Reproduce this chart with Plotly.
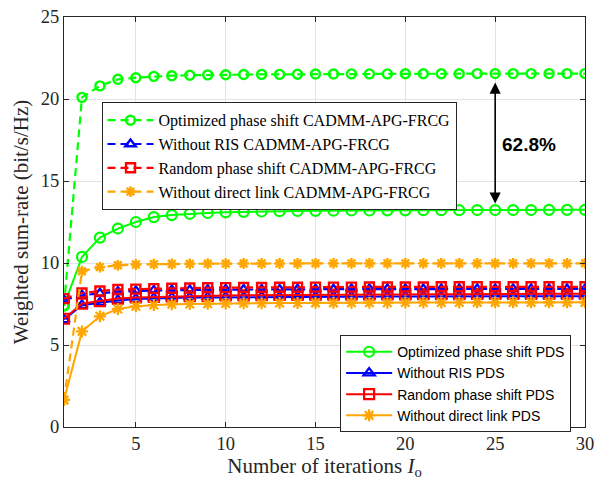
import plotly.graph_objects as go

iters = list(range(1, 31))

# CADMM-APG-FRCG (dashed curves)
opt_cadmm = [7.4, 20.1, 20.8, 21.2, 21.3, 21.38, 21.42, 21.45, 21.47, 21.48,
             21.49, 21.5, 21.5, 21.51, 21.52, 21.52, 21.53, 21.53, 21.53, 21.54,
             21.54, 21.54, 21.54, 21.55, 21.55, 21.55, 21.55, 21.55, 21.55, 21.55]
noris_cadmm = [7.75, 8.03, 8.15, 8.25, 8.3, 8.33, 8.35, 8.36, 8.37, 8.38,
               8.38, 8.39, 8.39, 8.4, 8.4, 8.4, 8.41, 8.41, 8.41, 8.41,
               8.42, 8.42, 8.42, 8.42, 8.42, 8.42, 8.42, 8.42, 8.42, 8.42]
rand_cadmm = [7.83, 8.17, 8.29, 8.38, 8.41, 8.44, 8.46, 8.48, 8.49, 8.5,
              8.51, 8.51, 8.52, 8.52, 8.53, 8.53, 8.53, 8.54, 8.54, 8.54,
              8.54, 8.55, 8.55, 8.55, 8.55, 8.55, 8.55, 8.55, 8.55, 8.55]
nodl_cadmm = [1.65, 9.5, 9.75, 9.86, 9.91, 9.93, 9.94, 9.95, 9.96, 9.96,
              9.97, 9.97, 9.97, 9.97, 9.98, 9.98, 9.98, 9.98, 9.98, 9.98,
              9.98, 9.98, 9.98, 9.98, 9.98, 9.98, 9.98, 9.98, 9.98, 9.98]

# PDS (solid curves)
opt_pds = [7.4, 10.37, 11.55, 12.1, 12.5, 12.8, 12.92, 13.0, 13.05, 13.09,
           13.12, 13.14, 13.16, 13.17, 13.18, 13.19, 13.2, 13.2, 13.21, 13.21,
           13.22, 13.22, 13.22, 13.23, 13.23, 13.23, 13.23, 13.24, 13.24, 13.24]
noris_pds = [6.55, 7.42, 7.58, 7.72, 7.8, 7.84, 7.87, 7.89, 7.9, 7.91,
             7.92, 7.93, 7.93, 7.94, 7.94, 7.95, 7.95, 7.95, 7.96, 7.96,
             7.96, 7.96, 7.97, 7.97, 7.97, 7.97, 7.97, 7.97, 7.97, 7.97]
rand_pds = [6.6, 7.52, 7.68, 7.83, 7.9, 7.93, 7.96, 7.98, 8.0, 8.02,
            8.03, 8.04, 8.05, 8.06, 8.07, 8.07, 8.08, 8.08, 8.09, 8.09,
            8.1, 8.1, 8.1, 8.11, 8.11, 8.11, 8.12, 8.12, 8.12, 8.12]
nodl_pds = [1.65, 5.83, 6.75, 7.2, 7.36, 7.44, 7.48, 7.5, 7.52, 7.53,
            7.54, 7.55, 7.56, 7.56, 7.57, 7.57, 7.58, 7.58, 7.58, 7.59,
            7.59, 7.59, 7.59, 7.6, 7.6, 7.6, 7.6, 7.6, 7.6, 7.6]

gain_label = "62.8%"
gain_x = 25

GREEN, BLUE, RED, ORANGE = "#00FF00", "#0000FF", "#FF0000", "#FFA500"
DASH = "8px,5px"
SERIF = "Liberation Serif, Times New Roman"
SANS = "Liberation Sans, Arial"

fig = go.Figure()

dashed = [
    ("Optimized phase shift CADMM-APG-FRCG", opt_cadmm, GREEN, "circle-open"),
    ("Without RIS CADMM-APG-FRCG", noris_cadmm, BLUE, "triangle-up-open"),
    ("Random phase shift CADMM-APG-FRCG", rand_cadmm, RED, "square-open"),
    ("Without direct link CADMM-APG-FRCG", nodl_cadmm, ORANGE, "asterisk-open"),
]
solid = [
    ("Optimized phase shift PDS", opt_pds, GREEN, "circle-open"),
    ("Without RIS PDS", noris_pds, BLUE, "triangle-up-open"),
    ("Random phase shift PDS", rand_pds, RED, "square-open"),
    ("Without direct link PDS", nodl_pds, ORANGE, "asterisk-open"),
]

for name, ys, col, sym in solid:
    fig.add_trace(go.Scatter(
        x=iters, y=ys, name=name, mode="lines+markers", legend="legend2",
        line=dict(color=col, width=2),
        marker=dict(symbol=sym, size=10, color=col, line=dict(color=col, width=2.2)),
    ))
for name, ys, col, sym in dashed:
    fig.add_trace(go.Scatter(
        x=iters, y=ys, name=name, mode="lines+markers", legend="legend",
        line=dict(color=col, width=2.2, dash=DASH),
        marker=dict(symbol=sym, size=9, color=col, line=dict(color=col, width=2.4)),
    ))

# double-headed arrow showing the gain between the two optimized curves
fig.add_annotation(
    x=gain_x, y=opt_cadmm[gain_x - 1] - 0.55, ax=gain_x, ay=opt_pds[gain_x - 1] + 0.3,
    xref="x", yref="y", axref="x", ayref="y", text="",
    showarrow=True, arrowhead=2, startarrowhead=2, arrowside="end+start",
    arrowsize=1.4, startarrowsize=1.4, arrowwidth=1.6, arrowcolor="black",
)
fig.add_annotation(
    x=26.9, y=17.25, xref="x", yref="y", text="<b>" + gain_label + "</b>",
    showarrow=False, font=dict(family=SANS, size=19, color="black"),
)

axis_common = dict(
    showline=True, linecolor="#262626", linewidth=1, mirror="ticks",
    ticks="inside", ticklen=5, tickcolor="#262626",
    showgrid=True, gridcolor="#E3E3E3", gridwidth=1, zeroline=False,
    automargin=False,
    tickfont=dict(family=SERIF, size=18.5, color="#262626"),
)

fig.update_xaxes(
    range=[1, 30], tickvals=[5, 10, 15, 20, 25, 30],
    title=dict(text="Number of iterations <i>I</i><sub>o</sub>", standoff=4,
               font=dict(family=SERIF, size=21, color="#262626")),
    **axis_common,
)
fig.update_yaxes(
    range=[0, 25], tickvals=[0, 5, 10, 15, 20, 25],
    title=dict(text="Weighted sum-rate (bit/s/Hz)", standoff=6,
               font=dict(family=SERIF, size=21, color="#262626")),
    **axis_common,
)

fig.update_layout(
    width=597, height=480,
    margin=dict(l=64, r=12, t=17, b=53),
    plot_bgcolor="white", paper_bgcolor="white",
    legend=dict(
        x=0.072, y=0.792, xanchor="left", yanchor="top",
        bgcolor="white", bordercolor="#262626", borderwidth=1,
        font=dict(family=SERIF, size=16, color="black"),
        tracegroupgap=0, itemwidth=46,
    ),
    legend2=dict(
        x=0.53, y=0.224, xanchor="left", yanchor="top",
        bgcolor="white", bordercolor="#262626", borderwidth=1,
        font=dict(family=SANS, size=14, color="black"),
        tracegroupgap=0, itemwidth=46,
    ),
    showlegend=True,
)

fig.write_html("out.html")
